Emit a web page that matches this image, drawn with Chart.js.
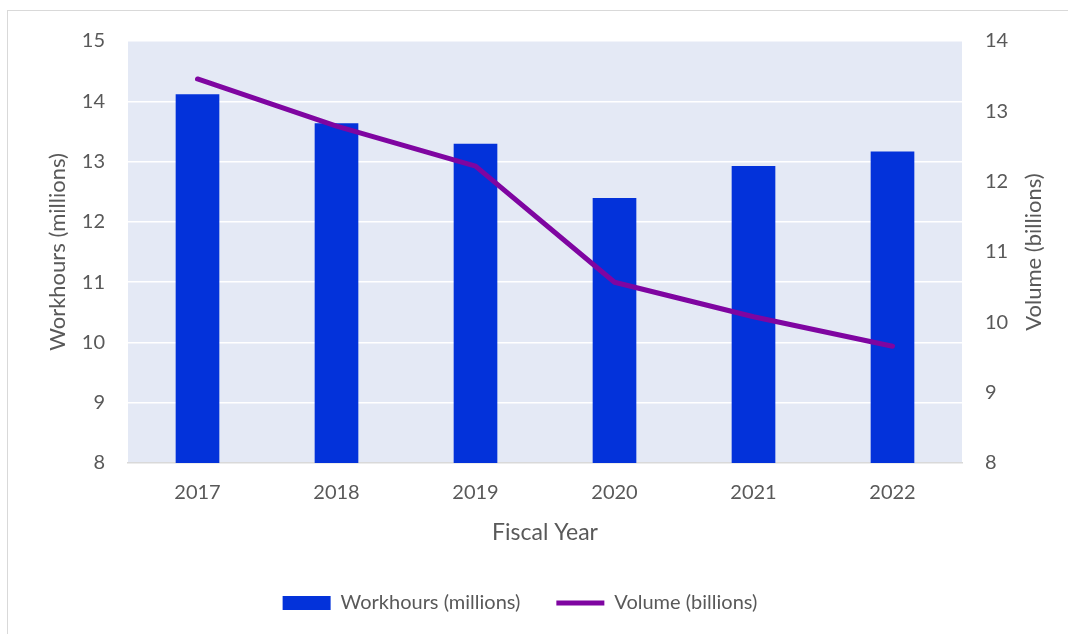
<!DOCTYPE html>
<html>
<head>
<meta charset="utf-8">
<script src="https://cdn.jsdelivr.net/npm/chart.js@4/dist/chart.umd.min.js"></script>
<style>
  html, body { margin: 0; padding: 0; background: #ffffff; }
  #wrap { position: relative; width: 1068px; height: 634px; overflow: hidden; }
  #frame { position: absolute; left: 7px; top: 10px; width: 1200px; height: 800px;
           border: 1.5px solid #d9d9d9; box-sizing: border-box; }
  canvas { position: absolute; left: 0; top: 0; }
</style>
</head>
<body>
<div id="wrap">
  <div id="frame"></div>
  <canvas id="chart" width="1068" height="634"></canvas>
</div>
<script>
// Fiscal years on the category axis
const fiscalYears = ['2017', '2018', '2019', '2020', '2021', '2022'];
// Workhours per year, in millions (bars, left axis)
const workhours = [14.11, 13.63, 13.29, 12.39, 12.92, 13.16];
// Mail volume per year, in billions (line, right axis)
const volume = [13.46, 12.79, 12.22, 10.57, 10.08, 9.66];
// Axis ranges
const workhoursRange = [8, 15];
const volumeRange = [8, 14];
const volumeTitle = 'Volume (billions)';

const textColor = '#595959';
const barColor = '#0332DA';
const lineColor = '#7F05A1';
const plotBg = '#E4E9F5';
const fontFamily = 'Lato, "Open Sans", sans-serif';

Chart.defaults.font.family = fontFamily;
Chart.defaults.color = textColor;

// Fills the plotting area behind the grid
const plotBackground = {
  id: 'plotBackground',
  beforeDraw(chart) {
    const { ctx, chartArea: a } = chart;
    ctx.save();
    ctx.fillStyle = plotBg;
    ctx.fillRect(a.left, a.top, a.right - a.left, a.bottom - a.top);
    ctx.restore();
  }
};

// Right-hand axis title, reading bottom to top like the left one
const rightAxisTitle = {
  id: 'rightAxisTitle',
  afterDraw(chart) {
    const { ctx, chartArea: a } = chart;
    ctx.save();
    ctx.translate(1034, (a.top + a.bottom) / 2);
    ctx.rotate(-Math.PI / 2);
    ctx.font = '22px ' + fontFamily;
    ctx.fillStyle = textColor;
    ctx.textAlign = 'center';
    ctx.textBaseline = 'middle';
    ctx.fillText(volumeTitle, 0, 0);
    ctx.restore();
  }
};

new Chart(document.getElementById('chart'), {
  type: 'bar',
  data: {
    labels: fiscalYears,
    datasets: [
      {
        type: 'line',
        label: 'Volume (billions)',
        data: volume,
        yAxisID: 'yVolume',
        borderColor: lineColor,
        backgroundColor: lineColor,
        borderWidth: 5,
        borderCapStyle: 'round',
        borderJoinStyle: 'round',
        tension: 0,
        pointRadius: 0,
        pointHoverRadius: 0,
        pointStyle: 'line',
        order: 1
      },
      {
        type: 'bar',
        label: 'Workhours (millions)',
        data: workhours,
        yAxisID: 'yWork',
        backgroundColor: barColor,
        borderWidth: 0,
        barThickness: 43,
        pointStyle: 'rect',
        order: 2
      }
    ]
  },
  options: {
    responsive: false,
    animation: false,
    events: [],
    layout: { padding: { top: 41, left: 8, right: 36, bottom: 11 } },
    plugins: {
      tooltip: { enabled: false },
      legend: {
        position: 'bottom',
        reverse: true,
        labels: {
          usePointStyle: true,
          pointStyleWidth: 48,
          boxHeight: 14,
          padding: 36,
          color: textColor,
          font: { size: 20 }
        }
      }
    },
    scales: {
      x: {
        grid: { display: false, drawTicks: false },
        border: { display: true, color: '#d9d9d9', width: 1.5 },
        ticks: { padding: 18, color: textColor, font: { size: 20 } },
        title: {
          display: true,
          text: 'Fiscal Year',
          color: textColor,
          font: { size: 23 },
          padding: { top: 0, bottom: 11 }
        },
        afterFit(scale) { scale.height = 94; }
      },
      yWork: {
        position: 'left',
        min: workhoursRange[0],
        max: workhoursRange[1],
        ticks: { stepSize: 1, padding: 23, color: textColor, font: { size: 20 } },
        grid: { color: '#ffffff', lineWidth: 1.5, drawTicks: false },
        border: { display: false },
        title: {
          display: true,
          text: 'Workhours (millions)',
          color: textColor,
          font: { size: 22 },
          padding: { top: 37, bottom: 0 }
        },
        afterFit(scale) { scale.width = 120; }
      },
      yVolume: {
        position: 'right',
        min: volumeRange[0],
        max: volumeRange[1],
        ticks: { stepSize: 1, padding: 23, color: textColor, font: { size: 20 } },
        grid: { drawOnChartArea: false, drawTicks: false },
        border: { display: false },
        afterFit(scale) { scale.width = 70; }
      }
    }
  },
  plugins: [plotBackground, rightAxisTitle]
});
</script>
</body>
</html>
